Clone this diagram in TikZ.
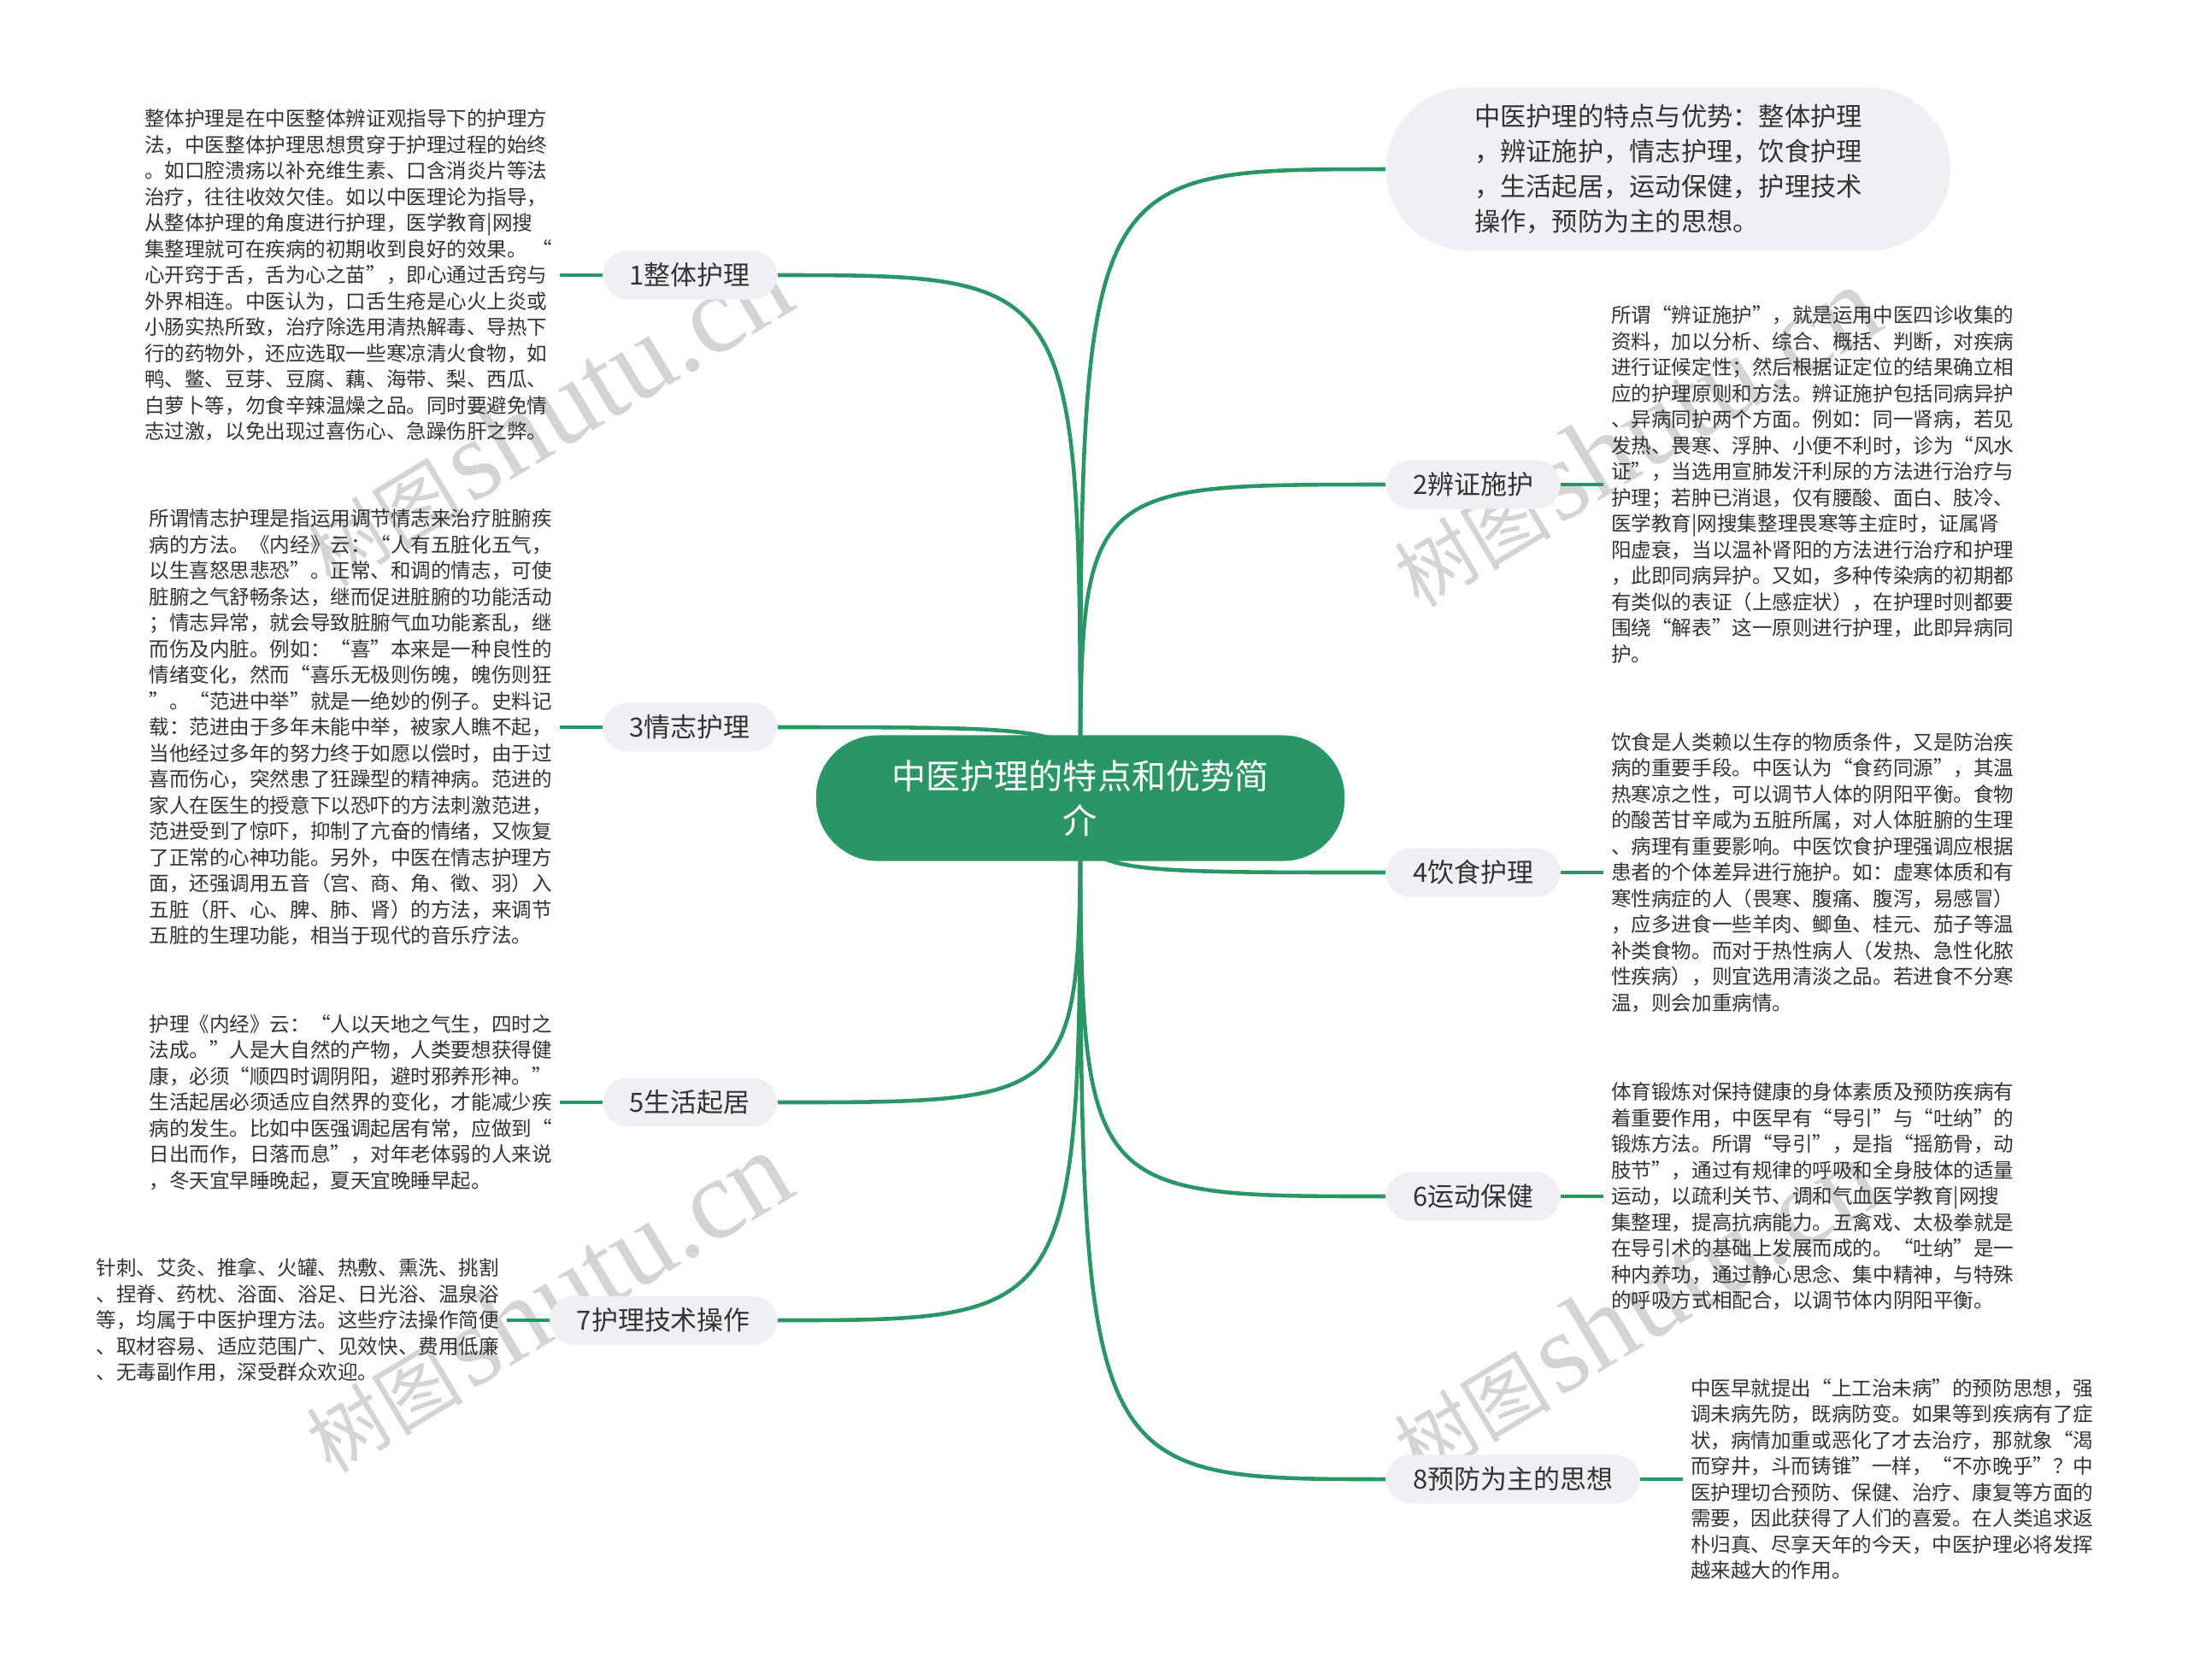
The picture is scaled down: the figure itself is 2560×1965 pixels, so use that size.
\documentclass[tikz,border=0pt]{standalone}
\usepackage{fontspec}
\setmainfont{Noto Sans CJK SC}
\newfontfamily\wmlatin{Liberation Serif}
\usepackage{xcolor}
\usetikzlibrary{positioning}
\definecolor{mindgreen}{RGB}{43,150,101}
\definecolor{topicgray}{RGB}{238,240,243}
\definecolor{inkgray}{RGB}{51,51,51}
\pgfdeclarelayer{back}
\pgfsetlayers{back,main}

\begin{document}
\begin{tikzpicture}[
        x=0.01cm, y=-0.01cm,
        root/.style={rectangle, rounded corners=0.72cm, minimum width=6.18cm, minimum height=1.47cm, align=center, fill=mindgreen, text=white, font=\fontsize{11.4}{14.8}\selectfont},
        topic/.style={rectangle, rounded corners=0.285cm, minimum height=0.57cm, inner xsep=0.315cm, inner ysep=0pt, fill=topicgray, text=inkgray, font=\fontsize{8.8}{10.5}\selectfont},
        summary/.style={rectangle, rounded corners=0.95cm, minimum width=6.6cm, minimum height=1.91cm, align=left, fill=topicgray, text=inkgray, font=\fontsize{8.6}{11.6}\selectfont},
        detail/.style={align=left, inner sep=0pt, outer sep=2.5pt, text=inkgray, font=\fontsize{6.7}{8.67}\selectfont},
        branch/.style={draw=mindgreen, line width=1.3pt},
        twig/.style={draw=mindgreen, line width=0.9pt},
        wmark/.style={text=black!17, rotate=31, inner sep=0pt}
    ]

    \useasboundingbox (0,0) rectangle (2560,1965);

    \node (root) [root] at (1264,934) {中医护理的特点和优势简\\介};
    \node (sum) [summary, anchor=west] at (1621,198) {中医护理的特点与优势：整体护理\\，辨证施护，情志护理，饮食护理\\，生活起居，运动保健，护理技术\\操作，预防为主的思想。};

    % left topics
    \node (b1) [topic, anchor=east] at (910,322) {1整体护理};
    \node (b3) [topic, anchor=east] at (910,851) {3情志护理};
    \node (b5) [topic, anchor=east] at (910,1290) {5生活起居};
    \node (b7) [topic, anchor=east] at (910,1545) {7护理技术操作};

    % right topics
    \node (b2) [topic, anchor=west] at (1621,567) {2辨证施护};
    \node (b4) [topic, anchor=west] at (1621,1021) {4饮食护理};
    \node (b6) [topic, anchor=west] at (1621,1400) {6运动保健};
    \node (b8) [topic, anchor=west] at (1621,1731) {8预防为主的思想};

    \node (t1) [detail, left=0.5cm of b1] {整体护理是在中医整体辨证观指导下的护理方\\法，中医整体护理思想贯穿于护理过程的始终\\。如口腔溃疡以补充维生素、口含消炎片等法\\治疗，往往收效欠佳。如以中医理论为指导，\\从整体护理的角度进行护理，医学教育|网搜\\集整理就可在疾病的初期收到良好的效果。 “\\心开窍于舌，舌为心之苗”，即心通过舌窍与\\外界相连。中医认为，口舌生疮是心火上炎或\\小肠实热所致，治疗除选用清热解毒、导热下\\行的药物外，还应选取一些寒凉清火食物，如\\鸭、鳖、豆芽、豆腐、藕、海带、梨、西瓜、\\白萝卜等，勿食辛辣温燥之品。同时要避免情\\志过激，以免出现过喜伤心、急躁伤肝之弊。};
    \node (t3) [detail, left=0.5cm of b3] {所谓情志护理是指运用调节情志来治疗脏腑疾\\病的方法。《内经》云：“人有五脏化五气，\\以生喜怒思悲恐”。正常、和调的情志，可使\\脏腑之气舒畅条达，继而促进脏腑的功能活动\\；情志异常，就会导致脏腑气血功能紊乱，继\\而伤及内脏。例如：“喜”本来是一种良性的\\情绪变化，然而“喜乐无极则伤魄，魄伤则狂\\”。“范进中举”就是一绝妙的例子。史料记\\载：范进由于多年未能中举，被家人瞧不起，\\当他经过多年的努力终于如愿以偿时，由于过\\喜而伤心，突然患了狂躁型的精神病。范进的\\家人在医生的授意下以恐吓的方法刺激范进，\\范进受到了惊吓，抑制了亢奋的情绪，又恢复\\了正常的心神功能。另外，中医在情志护理方\\面，还强调用五音（宫、商、角、徵、羽）入\\五脏（肝、心、脾、肺、肾）的方法，来调节\\五脏的生理功能，相当于现代的音乐疗法。};
    \node (t5) [detail, left=0.5cm of b5] {护理《内经》云：“人以天地之气生，四时之\\法成。”人是大自然的产物，人类要想获得健\\康，必须“顺四时调阴阳，避时邪养形神。”\\生活起居必须适应自然界的变化，才能减少疾\\病的发生。比如中医强调起居有常，应做到“\\日出而作，日落而息”，对年老体弱的人来说\\，冬天宜早睡晚起，夏天宜晚睡早起。};
    \node (t7) [detail, left=0.5cm of b7] {针刺、艾灸、推拿、火罐、热敷、熏洗、挑割\\、捏脊、药枕、浴面、浴足、日光浴、温泉浴\\等，均属于中医护理方法。这些疗法操作简便\\、取材容易、适应范围广、见效快、费用低廉\\、无毒副作用，深受群众欢迎。};

    \node (t2) [detail, right=0.5cm of b2] {所谓“辨证施护”，就是运用中医四诊收集的\\资料，加以分析、综合、概括、判断，对疾病\\进行证候定性；然后根据证定位的结果确立相\\应的护理原则和方法。辨证施护包括同病异护\\、异病同护两个方面。例如：同一肾病，若见\\发热、畏寒、浮肿、小便不利时，诊为“风水\\证”，当选用宣肺发汗利尿的方法进行治疗与\\护理；若肿已消退，仅有腰酸、面白、肢冷、\\医学教育|网搜集整理畏寒等主症时，证属肾\\阳虚衰，当以温补肾阳的方法进行治疗和护理\\，此即同病异护。又如，多种传染病的初期都\\有类似的表证（上感症状），在护理时则都要\\围绕“解表”这一原则进行护理，此即异病同\\护。};
    \node (t4) [detail, right=0.5cm of b4] {饮食是人类赖以生存的物质条件，又是防治疾\\病的重要手段。中医认为“食药同源”，其温\\热寒凉之性，可以调节人体的阴阳平衡。食物\\的酸苦甘辛咸为五脏所属，对人体脏腑的生理\\、病理有重要影响。中医饮食护理强调应根据\\患者的个体差异进行施护。如：虚寒体质和有\\寒性病症的人（畏寒、腹痛、腹泻，易感冒）\\，应多进食一些羊肉、鲫鱼、桂元、茄子等温\\补类食物。而对于热性病人（发热、急性化脓\\性疾病），则宜选用清淡之品。若进食不分寒\\温，则会加重病情。};
    \node (t6) [detail, right=0.5cm of b6] {体育锻炼对保持健康的身体素质及预防疾病有\\着重要作用，中医早有“导引”与“吐纳”的\\锻炼方法。所谓“导引”，是指“摇筋骨，动\\肢节”，通过有规律的呼吸和全身肢体的适量\\运动，以疏利关节、调和气血医学教育|网搜\\集整理，提高抗病能力。五禽戏、太极拳就是\\在导引术的基础上发展而成的。“吐纳”是一\\种内养功，通过静心思念、集中精神，与特殊\\的呼吸方式相配合，以调节体内阴阳平衡。};
    \node (t8) [detail, right=0.5cm of b8] {中医早就提出“上工治未病”的预防思想，强\\调未病先防，既病防变。如果等到疾病有了症\\状，病情加重或恶化了才去治疗，那就象“渴\\而穿井，斗而铸锥”一样，“不亦晚乎”？中\\医护理切合预防、保健、治疗、康复等方面的\\需要，因此获得了人们的喜爱。在人类追求返\\朴归真、尽享天年的今天，中医护理必将发挥\\越来越大的作用。};

    \begin{pgfonlayer}{back}
    \fill [white] (0,0) rectangle (2560,1965);

    % watermarks
    \node (wm1) [wmark] at (640,487) {{\fontsize{26}{26}\selectfont 树图} {\wmlatin\fontsize{38}{38}\selectfont shutu.cn}};
    \node (wm2) [wmark] at (640,1524) {{\fontsize{26}{26}\selectfont 树图} {\wmlatin\fontsize{38}{38}\selectfont shutu.cn}};
    \node (wm3) [wmark] at (1913,511) {{\fontsize{26}{26}\selectfont 树图} {\wmlatin\fontsize{38}{38}\selectfont shutu.cn}};
    \node (wm4) [wmark] at (1913,1532) {{\fontsize{26}{26}\selectfont 树图} {\wmlatin\fontsize{38}{38}\selectfont shutu.cn}};

    \draw [branch] (root.center) .. controls (root.center |- sum.west) .. (sum.west);
    \foreach \b in {b1,b3,b5,b7}
        \draw [branch] (root.center) .. controls (root.center |- \b.east) .. (\b.east);
    \foreach \b in {b2,b4,b6,b8}
        \draw [branch] (root.center) .. controls (root.center |- \b.west) .. (\b.west);

    \foreach \b/\t in {b1/t1,b3/t3,b5/t5,b7/t7}
        \draw [twig] (\b.west) -- (\t.east);
    \foreach \b/\t in {b2/t2,b4/t4,b6/t6,b8/t8}
        \draw [twig] (\b.east) -- (\t.west);
    \end{pgfonlayer}

\end{tikzpicture}
\end{document}
